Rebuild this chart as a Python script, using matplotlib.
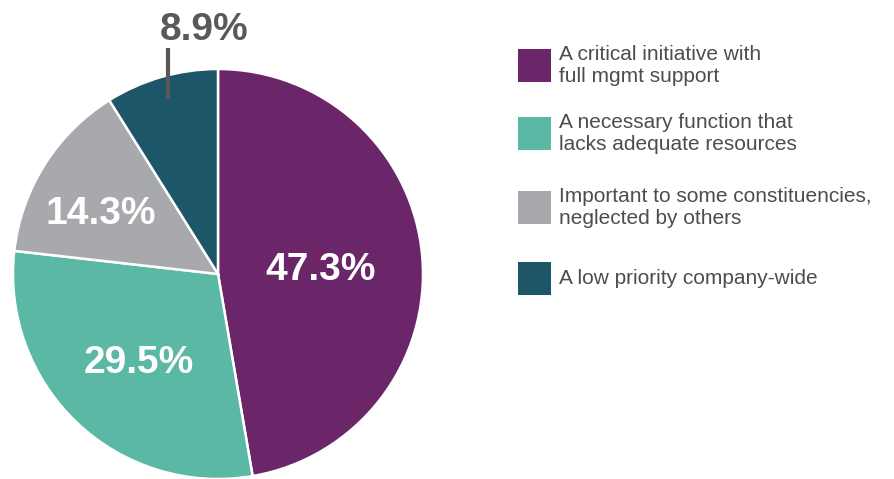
import numpy as np
import matplotlib
matplotlib.use("Agg")
import matplotlib.pyplot as plt
from matplotlib.patches import Rectangle

plt.rcParams['font.family'] = ['Liberation Sans', 'DejaVu Sans']

# Survey shares, clockwise from 12 o'clock
categories = [
    "A critical initiative with\nfull mgmt support",
    "A necessary function that\nlacks adequate resources",
    "Important to some constituencies,\nneglected by others",
    "A low priority company-wide",
]
values = [47.3, 29.5, 14.3, 8.9]
colors = ["#6B2569", "#5BB8A5", "#A7A9AC", "#1D5669"]

W, H = 894, 479
fig = plt.figure(figsize=(W / 100, H / 100), dpi=100)
ax = fig.add_axes([0, 0, 1, 1])

cx, cy, r = 218, H - 274, 205
wedges, _ = ax.pie(values, colors=colors, startangle=90, counterclock=False,
                   center=(cx, cy), radius=r, frame=True,
                   wedgeprops=dict(edgecolor='white', linewidth=1.8))
ax.set_xlim(0, W)
ax.set_ylim(0, H)
ax.set_aspect('equal')
ax.axis('off')

# in-slice value labels (small downward nudge so the digits sit centred)
label_r = [0.50, 0.57, 0.65]
angle_shift = [-1, 1, 4]
nudge = 3
for w, v, fr, da in zip(wedges[:3], values[:3], label_r, angle_shift):
    mid = np.deg2rad((w.theta1 + w.theta2) / 2 + da)
    ax.text(cx + fr * r * np.cos(mid), cy + fr * r * np.sin(mid) - nudge,
            f"{v}%", ha='center', va='center', color='white', fontsize=28,
            fontweight='bold')

# small slice: callout above the pie
w = wedges[3]
mid = np.deg2rad((w.theta1 + w.theta2) / 2)
lx = cx + 0.89 * r * np.cos(mid)
ly = cy + 0.89 * r * np.sin(mid)
ax.plot([lx, lx], [ly, H - 48], color='#58595B', lw=3, solid_capstyle='butt')
ax.text(204, H - 27 - nudge, f"{values[3]}%", ha='center', va='center',
        color='#58595B', fontsize=28, fontweight='bold')

# legend
legend_y = [65.5, 133.5, 207, 278.5]
for cat, col, yc in zip(categories, colors, legend_y):
    ax.add_patch(Rectangle((518, H - yc - 16.5), 33, 33, facecolor=col,
                           edgecolor='none'))
    ax.text(559, H - yc, cat, ha='left', va='center', color='#4D4D4F',
            fontsize=15, linespacing=1.2)

fig.savefig("out.png", dpi=100)
